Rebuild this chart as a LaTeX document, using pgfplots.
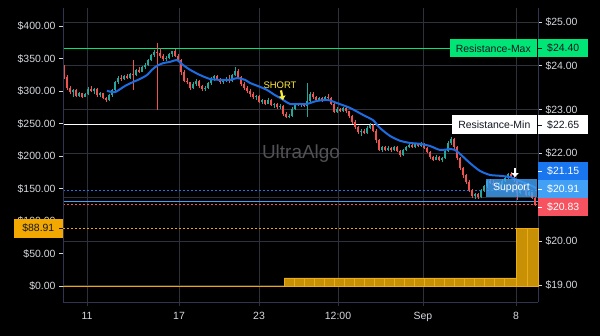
\documentclass[border=0pt]{standalone}
\usepackage{pgfplots}
\pgfplotsset{compat=1.18}
\usepackage{pgfplotstable}
\usepackage{fontspec}
\setmainfont{Liberation Sans}
\usetikzlibrary{arrows.meta}
\definecolor{gridc}{RGB}{46,48,58}
\definecolor{axisc}{RGB}{48,52,80}
\definecolor{lbl}{RGB}{214,216,222}
\definecolor{upc}{RGB}{38,166,154}
\definecolor{dnc}{RGB}{239,83,80}
\definecolor{mac}{RGB}{30,108,225}
\definecolor{resmax}{RGB}{0,230,118}
\definecolor{dkblue}{RGB}{25,118,238}
\definecolor{ltblue}{RGB}{66,160,245}
\definecolor{redl}{RGB}{247,82,95}
\definecolor{orgl}{RGB}{242,168,0}
\definecolor{orgfill}{RGB}{200,145,5}
\definecolor{orgedge}{RGB}{235,172,25}
\definecolor{dark}{RGB}{19,23,34}
\definecolor{wm}{RGB}{82,82,86}
\definecolor{shorty}{RGB}{255,235,59}
\newcommand{\lf}{\fontsize{10.5}{12}\selectfont}

\pgfplotstableread{
x o h l c
64 24.00 24.02 23.70 23.75
67 23.75 23.80 23.45 23.50
70 23.50 23.55 23.35 23.40
73 23.40 23.47 23.30 23.44
76 23.44 23.46 23.28 23.32
79 23.32 23.40 23.29 23.37
82 23.37 23.39 23.27 23.30
85 23.30 23.38 23.28 23.35
88 23.35 23.52 23.33 23.48
91 23.48 23.54 23.40 23.43
94 23.43 23.50 23.36 23.47
97 23.47 23.49 23.30 23.33
100 23.33 23.40 23.28 23.37
103 23.37 23.39 23.24 23.27
106 23.27 23.30 23.18 23.21
109 23.21 23.36 23.19 23.33
112 23.33 23.48 23.30 23.45
115 23.45 23.66 23.42 23.62
118 23.62 23.76 23.58 23.72
121 23.72 23.78 23.66 23.70
124 23.70 23.80 23.68 23.77
127 23.77 23.82 23.70 23.73
130 23.73 23.84 23.71 23.81
133 23.81 24.13 23.45 23.78
136 23.78 23.93 23.76 23.90
139 23.90 23.97 23.84 23.87
142 23.87 24.00 23.85 23.97
145 23.97 24.06 23.92 24.03
148 24.03 24.16 24.00 24.13
151 24.13 24.28 24.10 24.25
154 24.25 24.36 24.20 24.32
157 24.32 24.52 22.99 24.30
160 24.30 24.40 24.18 24.22
163 24.22 24.26 24.12 24.16
166 24.16 24.22 24.10 24.18
169 24.18 24.30 24.15 24.27
172 24.27 24.35 24.20 24.33
175 24.33 24.38 24.20 24.22
178 24.22 24.26 24.10 24.14
181 24.14 24.16 23.80 23.85
184 23.85 23.90 23.62 23.66
187 23.66 23.72 23.58 23.62
190 23.62 23.64 23.45 23.49
193 23.49 23.62 23.46 23.58
196 23.58 23.70 23.55 23.66
199 23.66 23.68 23.50 23.53
202 23.53 23.56 23.42 23.46
205 23.46 23.55 23.43 23.50
208 23.50 23.64 23.48 23.60
211 23.60 23.75 23.57 23.72
214 23.72 23.80 23.65 23.77
217 23.77 23.80 23.68 23.71
220 23.71 23.73 23.58 23.62
223 23.62 23.70 23.59 23.67
226 23.67 23.74 23.63 23.70
229 23.70 23.78 23.60 23.65
232 23.65 23.82 23.63 23.79
235 23.79 23.97 23.76 23.88
238 23.88 23.92 23.70 23.74
241 23.74 23.76 23.55 23.59
244 23.59 23.62 23.45 23.49
247 23.49 23.55 23.38 23.42
250 23.42 23.46 23.30 23.35
253 23.35 23.40 23.25 23.28
256 23.28 23.34 23.22 23.31
259 23.31 23.33 23.15 23.18
262 23.18 23.24 23.12 23.21
265 23.21 23.23 23.10 23.14
268 23.14 23.26 23.12 23.22
271 23.22 23.24 23.08 23.11
274 23.11 23.16 23.04 23.13
277 23.13 23.15 23.02 23.06
280 23.06 23.12 23.02 23.09
283 23.09 23.10 22.86 22.90
286 22.90 22.94 22.80 22.83
289 22.83 22.90 22.80 22.86
292 22.86 23.05 22.84 23.02
295 23.02 23.14 23.00 23.12
298 23.12 23.16 23.08 23.10
301 23.10 23.15 23.06 23.13
304 23.13 23.16 23.07 23.09
307 23.09 23.61 22.83 23.20
310 23.20 23.40 23.18 23.36
313 23.36 23.40 23.25 23.28
316 23.28 23.32 23.18 23.21
319 23.21 23.30 23.19 23.27
322 23.27 23.29 23.18 23.22
325 23.22 23.32 23.20 23.29
328 23.29 23.35 23.24 23.26
331 23.26 23.28 23.10 23.13
334 23.13 23.16 22.92 22.95
337 22.95 23.05 22.93 23.01
340 23.01 23.04 22.94 22.97
343 22.97 23.06 22.95 23.03
346 23.03 23.05 22.93 22.96
349 22.96 22.98 22.82 22.86
352 22.86 22.88 22.68 22.72
355 22.72 22.76 22.56 22.60
358 22.60 22.62 22.45 22.48
361 22.48 22.56 22.40 22.52
364 22.52 22.55 22.44 22.47
367 22.47 22.62 22.45 22.58
370 22.58 22.70 22.55 22.66
373 22.66 22.68 22.48 22.52
376 22.52 22.55 22.25 22.30
379 22.30 22.33 22.05 22.09
382 22.09 22.18 22.04 22.14
385 22.14 22.17 22.05 22.08
388 22.08 22.16 22.06 22.13
391 22.13 22.15 22.04 22.07
394 22.07 22.17 22.05 22.14
397 22.14 22.16 22.03 22.06
400 22.06 22.09 21.92 21.96
403 21.96 22.10 21.94 22.07
406 22.07 22.18 22.05 22.15
409 22.15 22.24 22.13 22.20
412 22.20 22.22 22.12 22.15
415 22.15 22.25 22.13 22.22
418 22.22 22.24 22.14 22.17
421 22.17 22.26 22.15 22.22
424 22.22 22.24 22.10 22.13
427 22.13 22.15 22.00 22.03
430 22.03 22.05 21.88 21.92
433 21.92 21.95 21.82 21.86
436 21.86 21.96 21.84 21.93
439 21.93 21.95 21.82 21.86
442 21.86 21.92 21.80 21.89
445 21.89 22.10 21.87 22.06
448 22.06 22.28 22.04 22.24
451 22.24 22.38 22.20 22.33
454 22.33 22.36 22.10 22.14
457 22.14 22.16 21.86 21.90
460 21.90 21.93 21.62 21.66
463 21.66 21.70 21.45 21.50
466 21.50 21.53 21.30 21.34
469 21.34 21.40 21.12 21.16
472 21.16 21.20 20.98 21.02
475 21.02 21.10 20.97 21.07
478 21.07 21.09 20.96 21.00
481 21.00 21.18 20.98 21.15
484 21.15 21.28 21.12 21.25
487 21.25 21.40 21.22 21.37
490 21.37 21.42 21.30 21.33
493 21.33 21.40 21.25 21.28
496 21.28 21.32 21.18 21.22
499 21.22 21.34 21.20 21.30
502 21.30 21.42 21.28 21.38
505 21.38 21.48 21.36 21.45
508 21.45 21.56 21.42 21.52
511 21.52 21.58 21.44 21.47
514 21.47 21.50 21.36 21.40
517 21.40 21.42 20.94 21.10
520 21.10 21.30 21.08 21.26
523 21.26 21.30 21.15 21.19
526 21.19 21.22 21.02 21.06
529 21.06 21.14 21.04 21.11
532 21.11 21.13 20.96 20.99
535 20.99 21.01 20.80 20.83
}\candles

\pgfplotstableread{
x y
107 23.43
115 23.40
125 23.54
133 23.63
140 23.70
147 23.79
152 23.91
157 24.00
163 24.06
170 24.09
177 24.13
183 24.02
190 23.91
200 23.79
210 23.70
220 23.68
230 23.68
237 23.72
245 23.68
250 23.61
260 23.52
267 23.45
275 23.33
280 23.27
290 23.13
300 23.13
307 23.13
317 23.20
328 23.22
337 23.15
350 23.04
363 22.88
373 22.76
380 22.58
390 22.40
400 22.29
410 22.24
420 22.22
430 22.17
440 22.08
450 22.10
455 22.08
460 21.99
470 21.78
480 21.60
490 21.51
500 21.49
510 21.46
520 21.37
530 21.28
536 21.21
}\ma

\begin{document}
\begin{tikzpicture}
\fill[black, use as bounding box] (0,0) rectangle (600bp,336bp);
\begin{axis}[
  at={(63bp,34bp)}, anchor=south west,
  scale only axis, width=475bp, height=294bp,
  xmin=63, xmax=538, ymin=18.61, ymax=25.32,
  axis x line=bottom, axis y line=right,
  axis line style={-, draw=axisc, line width=0.8bp},
  tick align=outside, major tick length=4bp,
  xtick={87,179,259,338,423,516},
  xticklabels={11,17,23,12:00,Sep,8},
  xticklabel style={yshift=-2.5bp},
  ytick={19,20,21,22,23,24,25},
  yticklabels={\$19.00,\$20.00,\$21.00,\$22.00,\$23.00,\$24.00,\$25.00},
  xmajorgrids, ymajorgrids,
  grid style={draw=gridc, line width=0.8bp},
  x tick style={draw=gridc, line width=0.8bp},
  y tick style={draw=lbl, line width=0.8bp},
  tick label style={font=\lf, text=lbl},
  clip=false,
]
\node[text=wm, font=\fontsize{19}{21}\selectfont] at (axis cs:301,22.0) {UltraAlgo};
% horizontal levels
\addplot[resmax, line width=1bp, forget plot] coordinates {(63,24.40) (450,24.40)};
\addplot[white, line width=1bp, forget plot] coordinates {(63,22.65) (452,22.65)};
\addplot[dkblue, line width=0.9bp, dash pattern=on 2bp off 2bp, forget plot] coordinates {(63,21.15) (538,21.15)};
\addplot[ltblue, line width=0.9bp, forget plot] coordinates {(63,20.91) (538,20.91)};
\addplot[redl, line width=0.9bp, dash pattern=on 2bp off 2bp, forget plot] coordinates {(63,20.83) (538,20.83)};
% candles: wicks (low to high) and bodies (open to close), one colour each
\addplot[upc, line width=0.8bp, mark=none, forget plot,
  quiver={u=0, v={(\thisrow{c}>=\thisrow{o})*(\thisrow{h}-\thisrow{l})}}]
  table[x=x, y=l] {\candles};
\addplot[dnc, line width=0.8bp, mark=none, forget plot,
  quiver={u=0, v={(\thisrow{c}<\thisrow{o})*(\thisrow{h}-\thisrow{l})}}]
  table[x=x, y=l] {\candles};
\addplot[upc, line width=2bp, mark=none, forget plot,
  quiver={u=0, v={max(\thisrow{c}-\thisrow{o},0)}}]
  table[x=x, y=o] {\candles};
\addplot[dnc, line width=2bp, mark=none, forget plot,
  quiver={u=0, v={max(\thisrow{o}-\thisrow{c},0)}}]
  table[x=x, y=c] {\candles};
% moving average
\addplot[mac, line width=2bp, smooth, tension=0.4, forget plot] table[x=x, y=y] {\ma};
% annotations
\node[text=shorty, font=\fontsize{9.5}{11}\selectfont] at (axis cs:280,23.56) {SHORT};
\draw[shorty, line width=2.2bp, -{Triangle[length=4bp,width=6.5bp]}] (axis cs:281,23.44) -- (axis cs:283,23.22);
\draw[white, line width=2.5bp, -{Triangle[length=4bp,width=7bp]}] (axis cs:515,21.67) -- (axis cs:515,21.46);
\node[fill=ltblue, fill opacity=0.82, text opacity=1, text=white, font=\lf, minimum width=51bp, minimum height=18bp, inner sep=0pt] at (axis cs:511.5,21.21) {Support};
% level labels
\node[fill=resmax, text=dark, font=\lf, minimum width=87bp, minimum height=18bp, inner sep=0pt, anchor=east] at (axis cs:537,24.40) {Resistance-Max};
\node[fill=resmax, text=dark, font=\lf, minimum width=50bp, minimum height=18bp, inner sep=0pt, anchor=west] at (axis cs:538,24.40) {\$24.40};
\node[fill=white, text=dark, font=\lf, minimum width=85bp, minimum height=19bp, inner sep=0pt, anchor=east] at (axis cs:537,22.65) {Resistance-Min};
\node[fill=white, text=dark, font=\lf, minimum width=50bp, minimum height=19bp, inner sep=0pt, anchor=west] at (axis cs:538,22.65) {\$22.65};
\node[fill=dkblue, text=white, font=\lf, minimum width=50bp, minimum height=18bp, inner sep=0pt, anchor=west] at (axis cs:538,21.589) {\$21.15};
\node[fill=ltblue, text=white, font=\lf, minimum width=50bp, minimum height=18bp, inner sep=0pt, anchor=west] at (axis cs:538,21.179) {\$20.91};
\node[fill=redl, text=white, font=\lf, minimum width=50bp, minimum height=18bp, inner sep=0pt, anchor=west] at (axis cs:538,20.768) {\$20.83};
\draw[dark, line width=0.8bp] (axis cs:538,24.40) -- ([xshift=4bp]axis cs:538,24.40);
\draw[dark, line width=0.8bp] (axis cs:538,22.65) -- ([xshift=4bp]axis cs:538,22.65);
\draw[white, line width=0.8bp] (axis cs:538,21.589) -- ([xshift=4bp]axis cs:538,21.589);
\draw[white, line width=0.8bp] (axis cs:538,21.179) -- ([xshift=4bp]axis cs:538,21.179);
\draw[white, line width=0.8bp] (axis cs:538,20.768) -- ([xshift=4bp]axis cs:538,20.768);
\end{axis}
\begin{axis}[
  at={(63bp,34bp)}, anchor=south west,
  scale only axis, width=475bp, height=294bp,
  xmin=63, xmax=538, ymin=-24.6, ymax=427.7,
  axis x line=none, axis y line=left,
  axis line style={-, draw=axisc, line width=0.8bp},
  tick align=outside, major tick length=4bp,
  ytick={0,50,100,150,200,250,300,350,400},
  yticklabels={\$0.00,\$50.00,\$100.00,\$150.00,\$200.00,\$250.00,\$300.00,\$350.00,\$400.00},
  y tick style={draw=lbl, line width=0.8bp},
  tick label style={font=\lf, text=lbl},
  clip=false,
]
\addplot[orgl, line width=1bp, forget plot] coordinates {(63,0) (284,0)};
\addplot[ybar interval, fill=orgfill, draw=orgedge, line width=0.6bp, forget plot] coordinates {
(284,12.5) (294,12.5) (304,12.5) (314,12.5) (324,12.5) (334,12.5) (344,12.5) (354,12.5)
(364,12.5) (374,12.5) (384,12.5) (394,12.5) (404,12.5) (414,12.5) (424,12.5) (434,12.5)
(444,12.5) (454,12.5) (464,12.5) (474,12.5) (484,12.5) (494,12.5) (504,12.5)
(516,88.91) (527,88.91) (538,88.91)};
\addplot[orgl, line width=0.9bp, dash pattern=on 2bp off 2bp, forget plot] coordinates {(63,88.91) (538,88.91)};
\node[fill=orgl, text=dark, font=\lf, minimum width=49bp, minimum height=19bp, inner sep=0pt, anchor=east] at (axis cs:63,88.91) {\$88.91};
\draw[dark, line width=0.8bp] (axis cs:63,88.91) -- ([xshift=-4bp]axis cs:63,88.91);
\end{axis}
\end{tikzpicture}
\end{document}
